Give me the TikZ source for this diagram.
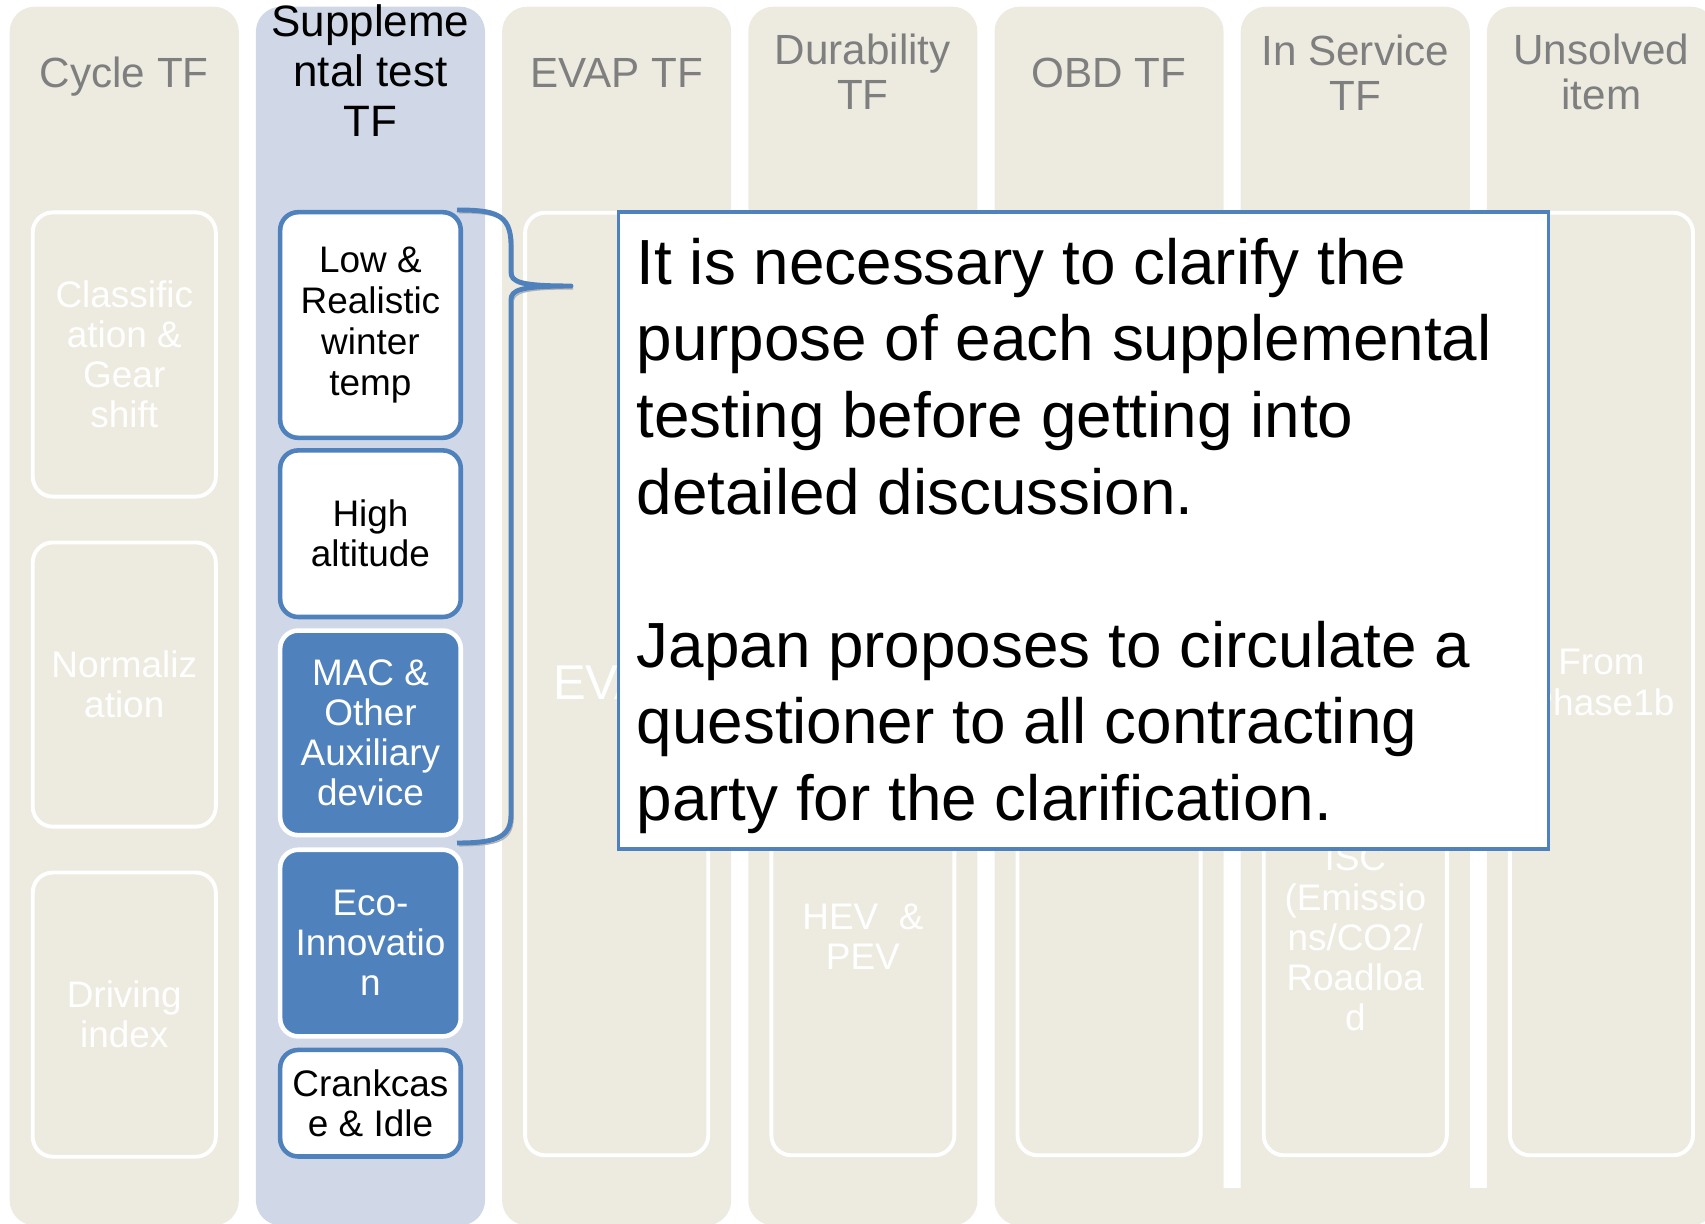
\documentclass[tikz,border=0pt]{standalone}
\usepackage{fontspec}
\setmainfont{Liberation Sans}
\usetikzlibrary{calc,positioning}
\definecolor{tfbeige}{RGB}{237,235,224}
\definecolor{tfblue}{RGB}{208,216,232}
\definecolor{headgrey}{RGB}{127,127,127}
\definecolor{accentblue}{RGB}{79,129,189}
\newcommand{\headsize}{\fontsize{12}{12.8}\selectfont}
\newcommand{\suppheadsize}{\fontsize{12.5}{14.2}\selectfont}
\newcommand{\itemsize}{\fontsize{10.5}{11.4}\selectfont}
\newcommand{\evapsize}{\fontsize{13.9}{15}\selectfont}
\newcommand{\notesize}{\fontsize{18.15}{21.8}\selectfont}
\tikzset{
  tfcolumn/.style={fill=tfbeige,rounded corners=0.25cm,minimum width=2.29cm,
    minimum height=12.18cm,anchor=north west,inner sep=0pt},
  tfhead/.style={font=\headsize,text=headgrey,align=center},
  itembox/.style={draw=white,line width=1.1pt,rounded corners=0.2cm,
    minimum width=1.83cm,font=\itemsize,text=white,align=center},
  itemtext/.style={font=\itemsize,text=white,align=center},
  suppbox/.style={draw=accentblue,line width=1.3pt,fill=white,
    rounded corners=0.18cm,minimum width=1.805cm,inner sep=2pt,
    font=\itemsize,align=center},
  suppfilled/.style={suppbox,draw=white,fill=accentblue,text=white},
  notebox/.style={draw=accentblue,line width=1pt,fill=white,
    minimum width=9.29cm,minimum height=6.37cm},
  notetext/.style={font=\notesize,align=left,inner sep=0pt,anchor=north west},
  bracestroke/.style={draw=accentblue,line width=1.4pt,line join=round,
    preaction={draw=black!30,transform canvas={xshift=0.6pt,yshift=-0.8pt}}}
}

\begin{document}
\begin{tikzpicture}[x=0.01cm,y=-0.01cm]
  \useasboundingbox (0,0) rectangle (1705,1224);
  % task force columns
  \foreach \col/\i/\shade in {cycle/0/tfbeige,supp/1/tfblue,evap/2/tfbeige,
      dura/3/tfbeige,obd/4/tfbeige,isc/5/tfbeige,unsolved/6/tfbeige}
    \node[tfcolumn,fill=\shade] (\col) at ({9+246.2*\i},6) {};
  \fill[tfbeige] ($(obd.south)+(0,-38)$) rectangle (unsolved.south);

  \node[tfhead] (cyclehead) at ($(cycle.north)+(0,71)$) {Cycle TF};
  \node[tfhead,font=\suppheadsize,text=black] (supphead)
    at ($(supp.north)+(0,65)$) {Suppleme\\ntal test\\TF};
  \node[tfhead] (evaphead) at ($(evap.north)+(0,67)$) {EVAP TF};
  \node[tfhead] (durahead) at ($(dura.north)+(0,66)$) {Durability\\TF};
  \node[tfhead] (obdhead) at ($(obd.north)+(0,67)$) {OBD TF};
  \node[tfhead] (ischead) at ($(isc.north)+(0,66.5)$) {In Service\\TF};
  \node[tfhead] (unsolvedhead) at ($(unsolved.north)+(0,66)$) {Unsolved\\item};

  % faint items
  \node[itembox,minimum height=2.84cm] (gearshift)
    at ($(cycle.north)+(0,348.5)$) {Classific\\ation \&\\Gear\\shift};
  \node[itembox,minimum height=2.84cm,below=0.42cm of gearshift] (normal)
    {Normaliz\\ation};
  \node[itembox,minimum height=2.84cm,below=0.42cm of normal] (drivindex)
    {Driving\\index};
  \foreach \col in {evap,dura,obd,isc,unsolved}
    \node[itembox,minimum height=9.42cm] (\col-box) at ($(\col.north)+(0,678)$) {};
  \node[itemtext,font=\evapsize] (evaplabel) at ($(evap.north)+(0,676.5)$) {EVAP};
  \node[itemtext] (hevlabel) at ($(dura.north)+(0,930.5)$) {HEV\ \ \&\\PEV};
  \node[itemtext] (isclabel) at ($(isc.north)+(0,932)$)
    {ISC\\(Emissio\\ns/CO2/\\Roadloa\\d};
  \node[itemtext] (phaselabel) at ($(unsolved.north)+(0,676.5)$) {From\\Phase1b};

  % supplemental tests
  \node[suppbox,minimum height=2.255cm,font=\fontsize{10.5}{11.6}\selectfont]
    (lowtemp) at ($(supp.north)+(0,319)$) {Low \&\\Realistic\\winter\\temp};
  \node[suppbox,minimum height=1.665cm,below=0.08cm of lowtemp] (altitude)
    {High\\altitude};
  \node[suppfilled,minimum height=2.045cm,below=0.09cm of altitude] (macaux)
    {MAC \&\\Other\\Auxiliary\\device};
  \node[suppfilled,minimum height=1.865cm,below=0.1cm of macaux] (ecoinno)
    {Eco-\\Innovatio\\n};
  \node[suppbox,minimum height=1.065cm,below=0.09cm of ecoinno] (crankidle)
    {Crankcas\\e \& Idle};

  % brace
  \coordinate (bracetip) at (571,286);
  \draw[bracestroke] (457,210) .. controls (495,210) and (511,214) .. (511,245)
    -- (511,272) .. controls (511,282) and (520,286) .. (bracetip)
    .. controls (520,286) and (511,290) .. (511,300) -- (511,815)
    .. controls (511,838) and (495,843) .. (457,843);

  % note
  \node[notebox] (note) at (1083.5,530.5) {};
  \node[notetext] (notebody) at ($(note.north west)+(19,27)$)
    {It is necessary to clarify the\\purpose of each supplemental\\
     testing before getting into\\detailed discussion.\\[21.8pt]
     Japan proposes to circulate a\\questioner to all contracting\\
     party for the clarification.};
\end{tikzpicture}
\end{document}
